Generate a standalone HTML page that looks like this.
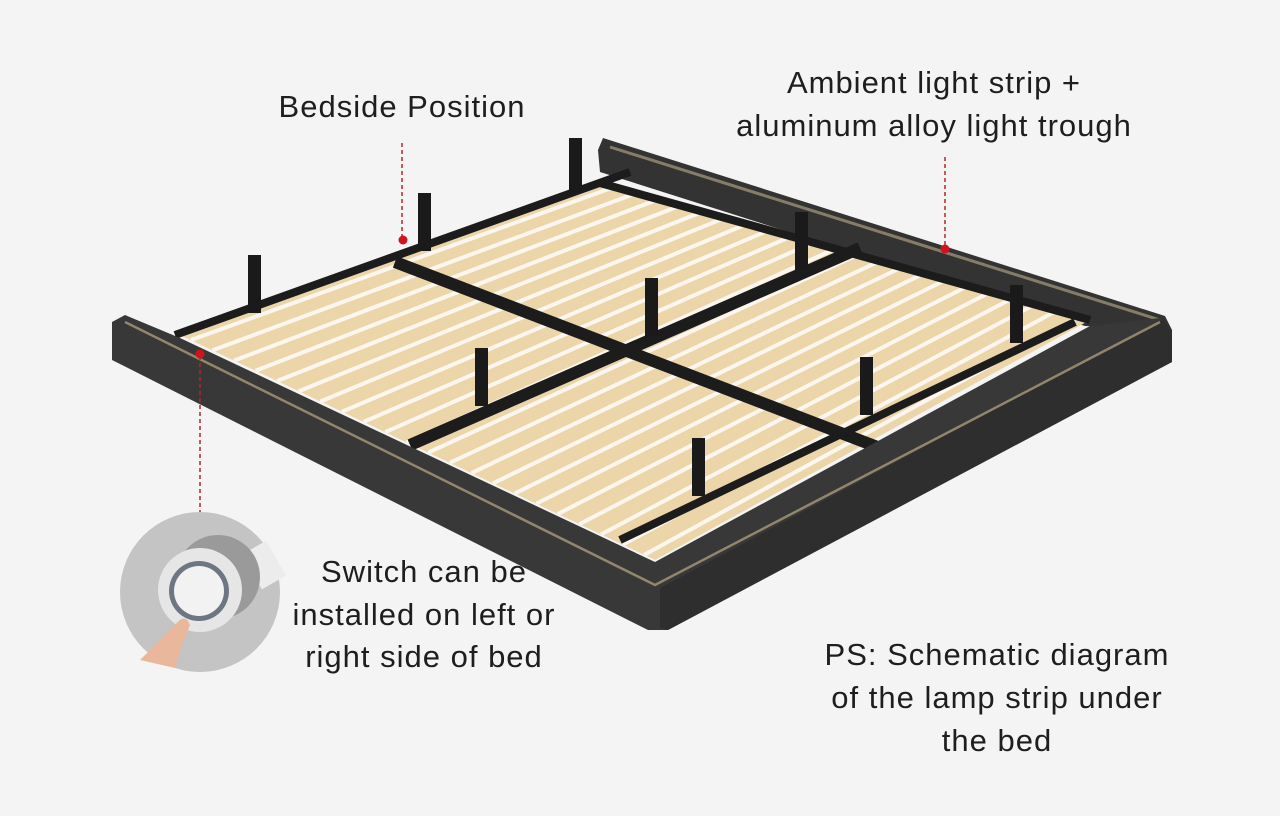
<!DOCTYPE html>
<html><head><meta charset="utf-8"><style>
body{margin:0;background:#f4f4f4;}
svg{display:block}
text{font-family:"Liberation Sans",sans-serif;fill:#1e1e1e;font-size:31px;letter-spacing:1px;text-anchor:middle}
</style></head><body>
<svg id="s" width="1280" height="816" viewBox="0 0 1280 816">
<rect width="1280" height="816" fill="#f4f4f4"/>
<defs>
<clipPath id="wood"><polygon points="180,335 600,185 1090,320 655,560"/></clipPath>
</defs>
<polygon points="603,138 1165,316 1172,330 1085,326 600,172 598,150" fill="#333"/>
<line x1="610" y1="147" x2="1160" y2="320" stroke="#bfae8c" stroke-width="3" opacity="0.6"/>
<polygon points="180,335 600,185 1090,320 655,560" fill="#ecd5a8"/>
<g id="slats" clip-path="url(#wood)" stroke="#fbf7f0" stroke-width="4"></g>
<g stroke="#1c1c1c" fill="none">
<polyline points="175,335 630,172" stroke-width="8"/>
<line x1="395" y1="262" x2="880" y2="448" stroke-width="12"/>
<line x1="410" y1="445" x2="860" y2="248" stroke-width="12"/>
<line x1="620" y1="540" x2="1075" y2="322" stroke-width="8"/>
<line x1="600" y1="183" x2="1090" y2="320" stroke-width="8"/>
</g>
<g fill="#1a1a1a">
<rect x="569" y="138" width="13" height="55"/>
<rect x="418" y="193" width="13" height="58"/>
<rect x="248" y="255" width="13" height="58"/>
<rect x="795" y="212" width="13" height="58"/>
<rect x="645" y="278" width="13" height="58"/>
<rect x="475" y="348" width="13" height="58"/>
<rect x="1010" y="285" width="13" height="58"/>
<rect x="860" y="357" width="13" height="58"/>
<rect x="692" y="438" width="13" height="58"/>
</g>
<polygon points="112,322 125,315 180,338 655,562 1090,326 1160,318 1172,330 1172,362 668,630 648,630 112,360" fill="#383838"/>
<polygon points="660,588 1162,320 1172,330 1172,362 668,630 660,628" fill="#2e2e2e"/>
<polyline points="125,322 655,585 1160,322" fill="none" stroke="#bca880" stroke-width="2.5" opacity="0.7"/>
<g stroke="#b3262a" stroke-width="1.5" stroke-dasharray="4,3">
<line x1="402" y1="143" x2="402" y2="238"/>
<line x1="945" y1="157" x2="945" y2="247"/>
<line x1="200" y1="356" x2="200" y2="512"/>
</g>
<g fill="#d0141b"><circle cx="403" cy="240" r="4.5"/><circle cx="945" cy="249" r="4.5"/><circle cx="200" cy="354" r="4.5"/></g>
<circle cx="200" cy="592" r="80" fill="#c4c4c4"/>
<rect x="250" y="545" width="28" height="40" fill="#ececec" transform="rotate(-30 264 565)"/>
<circle cx="218" cy="577" r="42" fill="#9a9a9a"/>
<circle cx="200" cy="590" r="42" fill="#e6e6e6"/>
<circle cx="199" cy="591" r="30" fill="#6e7684"/>
<circle cx="199" cy="591" r="25" fill="#f2f2f2"/>
<path d="M140,660 L175,625 Q185,612 190,625 L182,645 L175,668 Z" fill="#e9b79c"/>
<text x="402" y="117">Bedside Position</text>
<text x="934" y="93">Ambient light strip +</text>
<text x="934" y="136">aluminum alloy light trough</text>
<text x="424" y="582">Switch can be</text>
<text x="424" y="625">installed on left or</text>
<text x="424" y="667">right side of bed</text>
<text x="997" y="665">PS: Schematic diagram</text>
<text x="997" y="708">of the lamp strip under</text>
<text x="997" y="751">the bed</text>
</svg>
<script>
var g=document.getElementById('slats'),n=22,s='';
for(var i=0;i<=n;i++){var t=(i+0.5)/n;
var px=180+475*t,py=335+225*t,qx=600+490*t,qy=185+135*t;
s+='<line x1="'+px+'" y1="'+py+'" x2="'+qx+'" y2="'+qy+'"/>';}
g.innerHTML=s;
</script>
</body></html>
